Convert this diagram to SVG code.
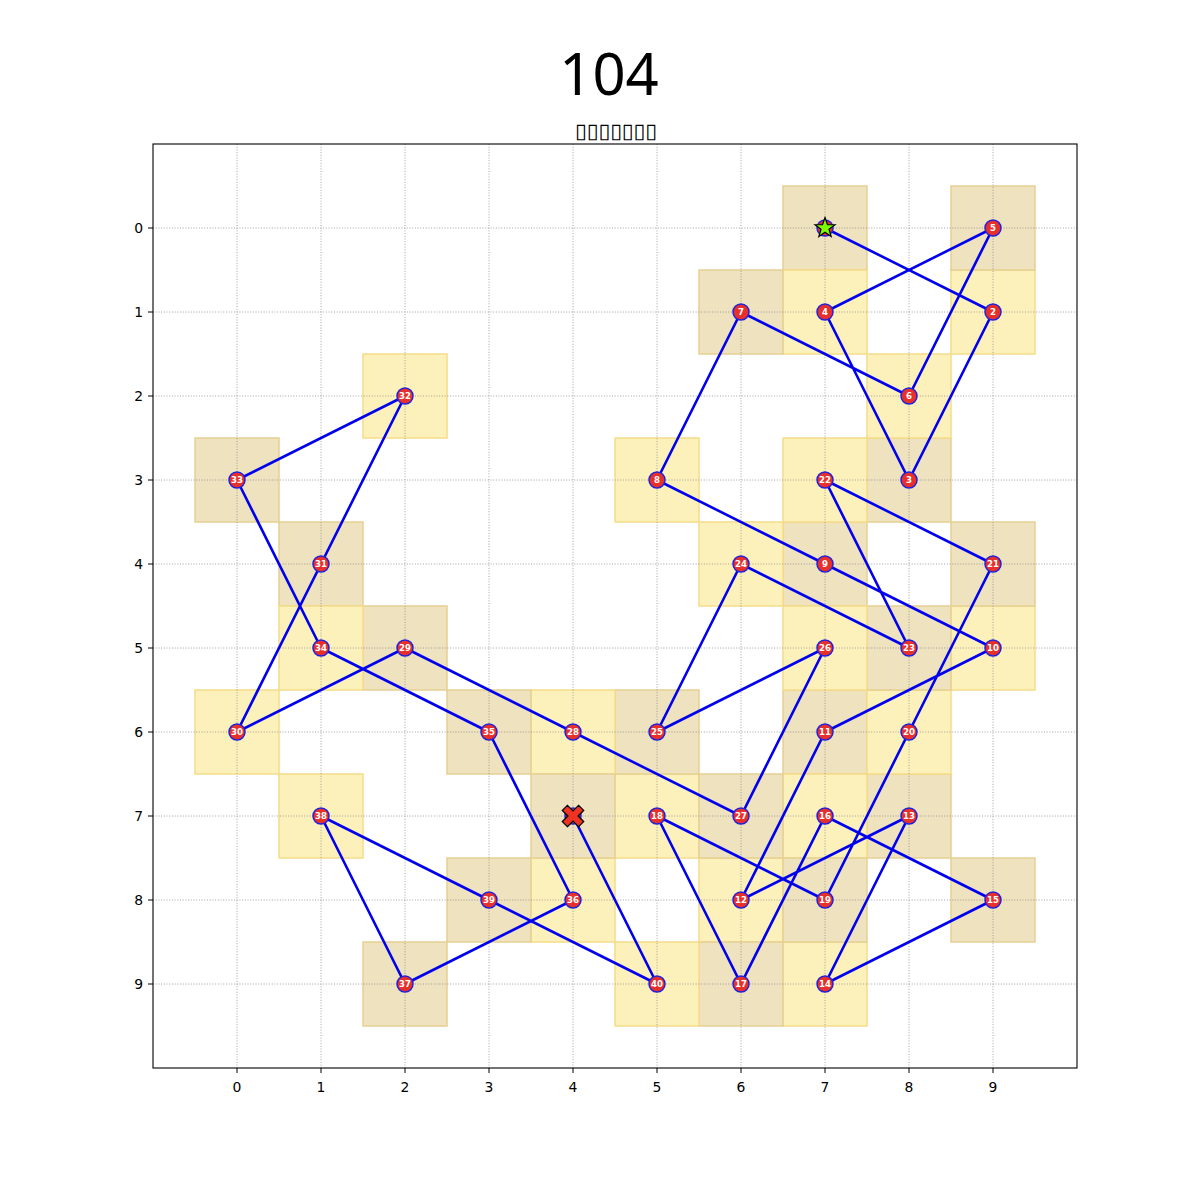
<svg xmlns="http://www.w3.org/2000/svg" width="1200" height="1200" viewBox="0 0 1200 1200">
<style>
.sqA{fill:#eee2bf;stroke:#e6d193;stroke-width:1.5}
.sqB{fill:#fdf1bb;stroke:#f4dc88;stroke-width:1.5}
.grid{stroke:#8c8c8c;stroke-width:0.8;stroke-dasharray:1,1.7}
.tick{stroke:#000;stroke-width:1}
.tl{font-family:"DejaVu Sans",sans-serif;font-size:13.9px;fill:#000}
.path{fill:none;stroke:#0000ee;stroke-width:2.6;stroke-linejoin:round;stroke-linecap:round}
.dot{fill:#e8302a;stroke:#2222dd;stroke-width:1.5}
.lbl{font-family:"DejaVu Sans",sans-serif;font-weight:bold;font-size:8.6px;fill:#fff;text-anchor:middle;dominant-baseline:central}
</style>
<rect width="1200" height="1200" fill="#fff"/>
<text x="609" y="95" font-family="Noto Sans, sans-serif" font-size="58" text-anchor="middle">104</text>
<text x="616" y="138" font-family="DejaVu Sans, sans-serif" font-size="21" text-anchor="middle" textLength="82" lengthAdjust="spacingAndGlyphs">▯▯▯▯▯▯▯</text>
<g id="squares">
<rect class="sqA" x="783" y="186" width="84" height="84"/>
<rect class="sqB" x="951" y="270" width="84" height="84"/>
<rect class="sqA" x="867" y="438" width="84" height="84"/>
<rect class="sqB" x="783" y="270" width="84" height="84"/>
<rect class="sqA" x="951" y="186" width="84" height="84"/>
<rect class="sqB" x="867" y="354" width="84" height="84"/>
<rect class="sqA" x="699" y="270" width="84" height="84"/>
<rect class="sqB" x="615" y="438" width="84" height="84"/>
<rect class="sqA" x="783" y="522" width="84" height="84"/>
<rect class="sqB" x="951" y="606" width="84" height="84"/>
<rect class="sqA" x="783" y="690" width="84" height="84"/>
<rect class="sqB" x="699" y="858" width="84" height="84"/>
<rect class="sqA" x="867" y="774" width="84" height="84"/>
<rect class="sqB" x="783" y="942" width="84" height="84"/>
<rect class="sqA" x="951" y="858" width="84" height="84"/>
<rect class="sqB" x="783" y="774" width="84" height="84"/>
<rect class="sqA" x="699" y="942" width="84" height="84"/>
<rect class="sqB" x="615" y="774" width="84" height="84"/>
<rect class="sqA" x="783" y="858" width="84" height="84"/>
<rect class="sqB" x="867" y="690" width="84" height="84"/>
<rect class="sqA" x="951" y="522" width="84" height="84"/>
<rect class="sqB" x="783" y="438" width="84" height="84"/>
<rect class="sqA" x="867" y="606" width="84" height="84"/>
<rect class="sqB" x="699" y="522" width="84" height="84"/>
<rect class="sqA" x="615" y="690" width="84" height="84"/>
<rect class="sqB" x="783" y="606" width="84" height="84"/>
<rect class="sqA" x="699" y="774" width="84" height="84"/>
<rect class="sqB" x="531" y="690" width="84" height="84"/>
<rect class="sqA" x="363" y="606" width="84" height="84"/>
<rect class="sqB" x="195" y="690" width="84" height="84"/>
<rect class="sqA" x="279" y="522" width="84" height="84"/>
<rect class="sqB" x="363" y="354" width="84" height="84"/>
<rect class="sqA" x="195" y="438" width="84" height="84"/>
<rect class="sqB" x="279" y="606" width="84" height="84"/>
<rect class="sqA" x="447" y="690" width="84" height="84"/>
<rect class="sqB" x="531" y="858" width="84" height="84"/>
<rect class="sqA" x="363" y="942" width="84" height="84"/>
<rect class="sqB" x="279" y="774" width="84" height="84"/>
<rect class="sqA" x="447" y="858" width="84" height="84"/>
<rect class="sqB" x="615" y="942" width="84" height="84"/>
<rect class="sqA" x="531" y="774" width="84" height="84"/>
</g>
<g id="grid" class="grid">
<line x1="237" y1="144" x2="237" y2="1068"/><line x1="321" y1="144" x2="321" y2="1068"/><line x1="405" y1="144" x2="405" y2="1068"/><line x1="489" y1="144" x2="489" y2="1068"/><line x1="573" y1="144" x2="573" y2="1068"/><line x1="657" y1="144" x2="657" y2="1068"/><line x1="741" y1="144" x2="741" y2="1068"/><line x1="825" y1="144" x2="825" y2="1068"/><line x1="909" y1="144" x2="909" y2="1068"/><line x1="993" y1="144" x2="993" y2="1068"/>
<line x1="153" y1="228" x2="1077" y2="228"/><line x1="153" y1="312" x2="1077" y2="312"/><line x1="153" y1="396" x2="1077" y2="396"/><line x1="153" y1="480" x2="1077" y2="480"/><line x1="153" y1="564" x2="1077" y2="564"/><line x1="153" y1="648" x2="1077" y2="648"/><line x1="153" y1="732" x2="1077" y2="732"/><line x1="153" y1="816" x2="1077" y2="816"/><line x1="153" y1="900" x2="1077" y2="900"/><line x1="153" y1="984" x2="1077" y2="984"/>
</g>
<g id="axes">
<rect x="153" y="144" width="924" height="924" fill="none" stroke="#000" stroke-width="1.1"/>
<g class="tick">
<line x1="237" y1="1068" x2="237" y2="1073"/><line x1="321" y1="1068" x2="321" y2="1073"/><line x1="405" y1="1068" x2="405" y2="1073"/><line x1="489" y1="1068" x2="489" y2="1073"/><line x1="573" y1="1068" x2="573" y2="1073"/><line x1="657" y1="1068" x2="657" y2="1073"/><line x1="741" y1="1068" x2="741" y2="1073"/><line x1="825" y1="1068" x2="825" y2="1073"/><line x1="909" y1="1068" x2="909" y2="1073"/><line x1="993" y1="1068" x2="993" y2="1073"/>
<line x1="148" y1="228" x2="153" y2="228"/><line x1="148" y1="312" x2="153" y2="312"/><line x1="148" y1="396" x2="153" y2="396"/><line x1="148" y1="480" x2="153" y2="480"/><line x1="148" y1="564" x2="153" y2="564"/><line x1="148" y1="648" x2="153" y2="648"/><line x1="148" y1="732" x2="153" y2="732"/><line x1="148" y1="816" x2="153" y2="816"/><line x1="148" y1="900" x2="153" y2="900"/><line x1="148" y1="984" x2="153" y2="984"/>
</g>
<g class="tl" text-anchor="middle">
<text x="237" y="1092">0</text><text x="321" y="1092">1</text><text x="405" y="1092">2</text><text x="489" y="1092">3</text><text x="573" y="1092">4</text><text x="657" y="1092">5</text><text x="741" y="1092">6</text><text x="825" y="1092">7</text><text x="909" y="1092">8</text><text x="993" y="1092">9</text>
</g>
<g class="tl" text-anchor="end">
<text x="143" y="233">0</text><text x="143" y="317">1</text><text x="143" y="401">2</text><text x="143" y="485">3</text><text x="143" y="569">4</text><text x="143" y="653">5</text><text x="143" y="737">6</text><text x="143" y="821">7</text><text x="143" y="905">8</text><text x="143" y="989">9</text>
</g>
</g>
<g id="connectors">
<polyline class="path" points="825,228 993,312 909,480 825,312 993,228 909,396 741,312 657,480 825,564 993,648 825,732 741,900 909,816 825,984 993,900 825,816 741,984 657,816 825,900 909,732 993,564 825,480 909,648 741,564 657,732 825,648 741,816 573,732 405,648 237,732 321,564 405,396 237,480 321,648 489,732 573,900 405,984 321,816 489,900 657,984 573,816"/>
</g>
<g id="nodes">
<g id="n1"><circle class="dot" cx="825" cy="228" r="8"/></g>
<g id="n2"><circle class="dot" cx="993" cy="312" r="8"/><text class="lbl" x="993" y="312">2</text></g>
<g id="n3"><circle class="dot" cx="909" cy="480" r="8"/><text class="lbl" x="909" y="480">3</text></g>
<g id="n4"><circle class="dot" cx="825" cy="312" r="8"/><text class="lbl" x="825" y="312">4</text></g>
<g id="n5"><circle class="dot" cx="993" cy="228" r="8"/><text class="lbl" x="993" y="228">5</text></g>
<g id="n6"><circle class="dot" cx="909" cy="396" r="8"/><text class="lbl" x="909" y="396">6</text></g>
<g id="n7"><circle class="dot" cx="741" cy="312" r="8"/><text class="lbl" x="741" y="312">7</text></g>
<g id="n8"><circle class="dot" cx="657" cy="480" r="8"/><text class="lbl" x="657" y="480">8</text></g>
<g id="n9"><circle class="dot" cx="825" cy="564" r="8"/><text class="lbl" x="825" y="564">9</text></g>
<g id="n10"><circle class="dot" cx="993" cy="648" r="8"/><text class="lbl" x="993" y="648">10</text></g>
<g id="n11"><circle class="dot" cx="825" cy="732" r="8"/><text class="lbl" x="825" y="732">11</text></g>
<g id="n12"><circle class="dot" cx="741" cy="900" r="8"/><text class="lbl" x="741" y="900">12</text></g>
<g id="n13"><circle class="dot" cx="909" cy="816" r="8"/><text class="lbl" x="909" y="816">13</text></g>
<g id="n14"><circle class="dot" cx="825" cy="984" r="8"/><text class="lbl" x="825" y="984">14</text></g>
<g id="n15"><circle class="dot" cx="993" cy="900" r="8"/><text class="lbl" x="993" y="900">15</text></g>
<g id="n16"><circle class="dot" cx="825" cy="816" r="8"/><text class="lbl" x="825" y="816">16</text></g>
<g id="n17"><circle class="dot" cx="741" cy="984" r="8"/><text class="lbl" x="741" y="984">17</text></g>
<g id="n18"><circle class="dot" cx="657" cy="816" r="8"/><text class="lbl" x="657" y="816">18</text></g>
<g id="n19"><circle class="dot" cx="825" cy="900" r="8"/><text class="lbl" x="825" y="900">19</text></g>
<g id="n20"><circle class="dot" cx="909" cy="732" r="8"/><text class="lbl" x="909" y="732">20</text></g>
<g id="n21"><circle class="dot" cx="993" cy="564" r="8"/><text class="lbl" x="993" y="564">21</text></g>
<g id="n22"><circle class="dot" cx="825" cy="480" r="8"/><text class="lbl" x="825" y="480">22</text></g>
<g id="n23"><circle class="dot" cx="909" cy="648" r="8"/><text class="lbl" x="909" y="648">23</text></g>
<g id="n24"><circle class="dot" cx="741" cy="564" r="8"/><text class="lbl" x="741" y="564">24</text></g>
<g id="n25"><circle class="dot" cx="657" cy="732" r="8"/><text class="lbl" x="657" y="732">25</text></g>
<g id="n26"><circle class="dot" cx="825" cy="648" r="8"/><text class="lbl" x="825" y="648">26</text></g>
<g id="n27"><circle class="dot" cx="741" cy="816" r="8"/><text class="lbl" x="741" y="816">27</text></g>
<g id="n28"><circle class="dot" cx="573" cy="732" r="8"/><text class="lbl" x="573" y="732">28</text></g>
<g id="n29"><circle class="dot" cx="405" cy="648" r="8"/><text class="lbl" x="405" y="648">29</text></g>
<g id="n30"><circle class="dot" cx="237" cy="732" r="8"/><text class="lbl" x="237" y="732">30</text></g>
<g id="n31"><circle class="dot" cx="321" cy="564" r="8"/><text class="lbl" x="321" y="564">31</text></g>
<g id="n32"><circle class="dot" cx="405" cy="396" r="8"/><text class="lbl" x="405" y="396">32</text></g>
<g id="n33"><circle class="dot" cx="237" cy="480" r="8"/><text class="lbl" x="237" y="480">33</text></g>
<g id="n34"><circle class="dot" cx="321" cy="648" r="8"/><text class="lbl" x="321" y="648">34</text></g>
<g id="n35"><circle class="dot" cx="489" cy="732" r="8"/><text class="lbl" x="489" y="732">35</text></g>
<g id="n36"><circle class="dot" cx="573" cy="900" r="8"/><text class="lbl" x="573" y="900">36</text></g>
<g id="n37"><circle class="dot" cx="405" cy="984" r="8"/><text class="lbl" x="405" y="984">37</text></g>
<g id="n38"><circle class="dot" cx="321" cy="816" r="8"/><text class="lbl" x="321" y="816">38</text></g>
<g id="n39"><circle class="dot" cx="489" cy="900" r="8"/><text class="lbl" x="489" y="900">39</text></g>
<g id="n40"><circle class="dot" cx="657" cy="984" r="8"/><text class="lbl" x="657" y="984">40</text></g>
<g id="n41"><circle class="dot" cx="573" cy="816" r="8"/></g>
<g id="start"><polygon transform="translate(825,228)" points="0,-10.5 2.47,-3.4 10,-3.25 4,1.3 6.17,8.5 0,4.2 -6.17,8.5 -4,1.3 -10,-3.25 -2.47,-3.4" fill="#7cfc00" stroke="#000" stroke-width="1.2" stroke-linejoin="miter"/></g>
<g id="end"><polygon transform="translate(573,816) rotate(45)" points="3.6,11.5 3.6,3.6 11.5,3.6 11.5,-3.6 3.6,-3.6 3.6,-11.5 -3.6,-11.5 -3.6,-3.6 -11.5,-3.6 -11.5,3.6 -3.6,3.6 -3.6,11.5" fill="#ee3322" stroke="#000" stroke-width="1.3"/></g>
</g>
</svg>
